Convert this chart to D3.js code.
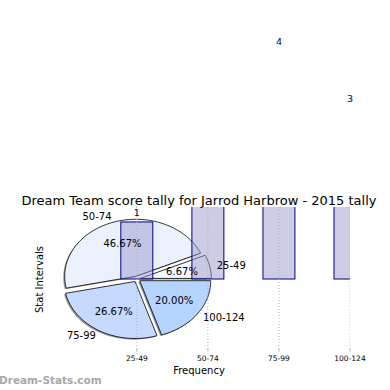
<!doctype html>
<html lang="en">
<head>
    <meta charset="utf-8">
    <title>Dream Team score tally</title>
    <style>
        body { margin: 0; background: #fff; }
        svg { font-family: "DejaVu Sans", sans-serif; }
        .grid line { stroke: #b0b0b0; stroke-width: 1; stroke-dasharray: 1,2; }
    </style>
</head>
<body>
<svg id="chart" width="390" height="390"></svg>

<script src="https://d3js.org/d3.v7.min.js"></script>
<script>

    // data
    let categories = ["25-49", "50-74", "75-99", "100-124"];
    let frequency = [1, 7, 4, 3];
    let pieColors = ["#f6f9ff", "#ebf2fe", "#c6d9ff", "#b5d4ff"];
    let title = "Dream Team score tally for Jarrod Harbrow - 2015 tally";

    let svg = d3.select("#chart");

    // axes box (data coords shared by bars and pie)
    let box = {left: 48, right: 350, top: 207, bottom: 348};
    let x = d3.scaleLinear().domain([-1.25, 3]).range([box.left, box.right]);
    let y = d3.scaleLinear().domain([-1.21, 1.263]).range([box.bottom, box.top]);

    svg.append("clipPath").attr("id", "axclip")
        .append("rect")
        .attr("x", box.left).attr("y", box.top)
        .attr("width", box.right - box.left).attr("height", box.bottom - box.top);

    let plot = svg.append("g").attr("clip-path", "url(#axclip)");

    // pie, drawn in the same data coords (so it becomes an ellipse)
    let explode = 0.05;
    let arcs = d3.pie().sort(null).value(d => d)(frequency);
    let total = d3.sum(frequency);
    let line = d3.line().x(d => x(d[0])).y(d => y(d[1]));

    function wedge(a0, a1, cx, cy) {
        let pts = [[cx, cy]];
        let n = Math.max(8, Math.ceil((a1 - a0) / 0.03));
        for (let k = 0; k <= n; k++) {
            let t = a0 + (a1 - a0) * k / n;
            pts.push([cx + Math.cos(t), cy + Math.sin(t)]);
        }
        pts.push([cx, cy]);
        return line(pts) + "Z";
    }

    let pieG = plot.append("g");
    arcs.forEach(function (a, i) {
        let mid = (a.startAngle + a.endAngle) / 2;
        a.cx = explode * Math.cos(mid);
        a.cy = explode * Math.sin(mid);
        a.mid = mid;
        // shadow
        pieG.append("path")
            .attr("d", wedge(a.startAngle, a.endAngle, a.cx - 0.02, a.cy - 0.02))
            .attr("fill", "#333")
            .attr("opacity", 0.5);
    });
    arcs.forEach(function (a, i) {
        pieG.append("path")
            .attr("d", wedge(a.startAngle, a.endAngle, a.cx, a.cy))
            .attr("fill", pieColors[i])
            .attr("stroke", "#000")
            .attr("stroke-width", 0.8)
            .attr("stroke-linejoin", "round");
    });

    // bars
    let barWidth = 0.45;
    plot.append("g").selectAll("rect")
        .data(frequency).enter()
        .append("rect")
        .attr("x", (d, i) => x(i - barWidth / 2))
        .attr("width", x(barWidth) - x(0))
        .attr("y", d => y(d))
        .attr("height", d => y(0) - y(d))
        .attr("fill", "rgba(153,153,204,0.5)")
        .attr("stroke", "#000080")
        .attr("stroke-width", 1);

    // vertical grid
    plot.append("g").attr("class", "grid")
        .selectAll("line")
        .data(categories).enter()
        .append("line")
        .attr("x1", (d, i) => x(i)).attr("x2", (d, i) => x(i))
        .attr("y1", box.top).attr("y2", box.bottom);

    // x ticks + labels
    let ticks = svg.append("g");
    categories.forEach(function (c, i) {
        ticks.append("line")
            .attr("x1", x(i)).attr("x2", x(i))
            .attr("y1", box.bottom).attr("y2", box.bottom + 3.5)
            .attr("stroke", "#b0b0b0").attr("stroke-width", 1);
        ticks.append("text")
            .attr("x", x(i)).attr("y", 361)
            .attr("text-anchor", "middle")
            .attr("font-size", 7.5)
            .text(c);
    });

    // bar value labels (not clipped; the 7 sits above the page, as in the original)
    svg.append("g").selectAll("text")
        .data(frequency.map((v, i) => ({v: v, i: i})).filter(d => y(d.v) - 6 > 10))
        .enter()
        .append("text")
        .attr("x", d => x(d.i))
        .attr("y", d => y(d.v) - 6)
        .attr("text-anchor", "middle")
        .attr("font-size", 9.5)
        .attr("fill", "#000080")
        .text(d => d.v);

    // pie labels
    let fmt = d3.format(".2f");
    arcs.forEach(function (a, i) {
        let lx = a.cx + 1.1 * Math.cos(a.mid);
        let ly = a.cy + 1.1 * Math.sin(a.mid);
        svg.append("text")
            .attr("x", x(lx)).attr("y", y(ly))
            .attr("text-anchor", lx > 0 ? "start" : "end")
            .attr("dominant-baseline", "central")
            .attr("font-size", 10)
            .text(categories[i]);
        let px = a.cx + 0.6 * Math.cos(a.mid);
        let py = a.cy + 0.6 * Math.sin(a.mid);
        svg.append("text")
            .attr("x", x(px)).attr("y", y(py))
            .attr("text-anchor", "middle")
            .attr("dominant-baseline", "central")
            .attr("font-size", 10)
            .text(fmt(100 * a.data / total) + "%");
    });

    // titles
    svg.append("text")
        .attr("x", (box.left + box.right) / 2).attr("y", 205)
        .attr("text-anchor", "middle")
        .attr("font-size", 13)
        .text(title);

    svg.append("text")
        .attr("x", (box.left + box.right) / 2).attr("y", 374)
        .attr("text-anchor", "middle")
        .attr("font-size", 10)
        .text("Frequency");

    svg.append("text")
        .attr("transform", "translate(43," + ((box.top + box.bottom) / 2 + 2) + ") rotate(-90)")
        .attr("text-anchor", "middle")
        .attr("font-size", 10)
        .text("Stat Intervals");

    svg.append("text")
        .attr("x", -1).attr("y", 384)
        .attr("font-size", 10.5)
        .attr("font-weight", "bold")
        .attr("fill", "#a8a8a8")
        .text("Dream-Stats.com");

</script>
</body>
</html>
